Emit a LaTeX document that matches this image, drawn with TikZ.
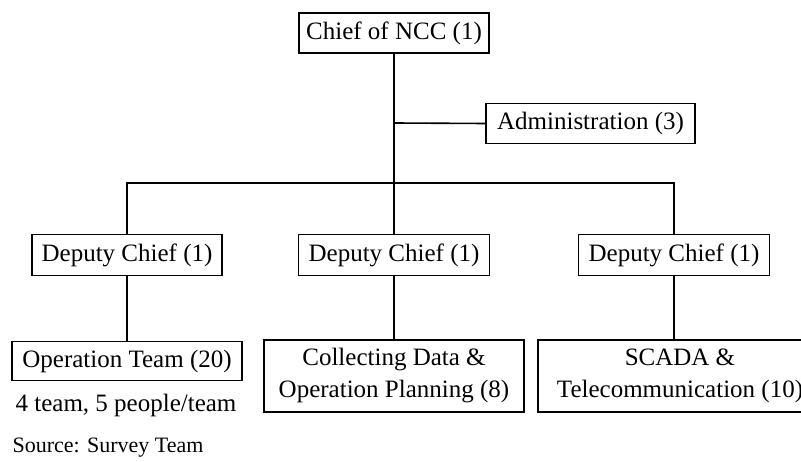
\documentclass[tikz,border=0pt]{standalone}
\usepackage{fontspec}
\setmainfont{Liberation Serif}
\begin{document}
\begin{tikzpicture}[x=1pt,y=-1pt,
  every node/.style={font=\fontsize{25}{32}\selectfont, inner sep=0pt},
  unit/.style={draw, line width=1.5pt, fill=white, align=center},
  link/.style={line width=1.6pt},
  note/.style={anchor=center}]
\clip (0,0) rectangle (801,462);
\fill[white] (0,0) rectangle (801,462);

% junction points on the trunk line
\coordinate (tap) at (394,123);
\coordinate (bus) at (394,183);

\node[unit, minimum width=190pt, minimum height=40pt] (chief) at (394,33) {Chief of NCC (1)};
\node[unit, minimum width=209pt, minimum height=40pt] (admin) at (590.5,123.5) {Administration (3)};

\node[unit, minimum width=190pt, minimum height=41pt] (dep1) at (127,255) {Deputy Chief (1)};
\node[unit, minimum width=191pt, minimum height=41pt] (dep2) at (394,255) {Deputy Chief (1)};
\node[unit, minimum width=191pt, minimum height=41pt] (dep3) at (674,255) {Deputy Chief (1)};

\node[unit, minimum width=230pt, minimum height=39pt] (ops) at (127,361) {Operation Team (20)};
\node[unit, minimum width=260pt, minimum height=72pt] (collect) at (394,376) {Collecting Data \&\\Operation Planning (8)};
\node[unit, minimum width=290pt, minimum height=72pt, anchor=west] (scada) at (537,376) {};
\node (scadatext) at (680,376) [align=center] {SCADA \&\\Telecommunication (10)};

\node[note] (teams) at (126,405) {4 team, 5 people/team};
\node[note, font=\fontsize{22}{26}\selectfont] (source) at (108,448) {Source: Survey Team};

\draw[link] (chief.south) -- (bus);
\draw[link] (tap) -- (admin.west);
\draw[link] (dep1.north) |- (bus) -| (dep3.north);
\draw[link] (bus) -- (dep2.north);
\draw[link] (dep1.south) -- (ops.north);
\draw[link] (dep2.south) -- (collect.north);
\draw[link] (dep3.south) -- (dep3.south |- scada.north);
\end{tikzpicture}
\end{document}
